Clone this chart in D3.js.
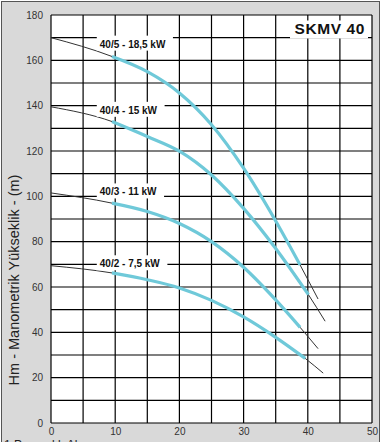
<!DOCTYPE html>
<html>
<head>
<meta charset="utf-8">
<script src="https://cdn.jsdelivr.net/npm/d3@7"></script>
<style>
body { margin: 0; background: #fff; }
text { font-family: Arial, "Liberation Sans", sans-serif; }
</style>
</head>
<body>
<svg id="chart" width="383" height="442"></svg>
<script>
let xTicks = [0, 10, 20, 30, 40, 50];
let yTicks = [0, 20, 40, 60, 80, 100, 120, 140, 160, 180];
let models = ['40/5 - 18,5 kW', '40/4 - 15 kW', '40/3 - 11 kW', '40/2 - 7,5 kW'];

// flow (x) and head (m)
let q405 = [0, 9.5, 15, 20, 25, 30, 35, 38.8, 41.6];
let h405 = [170, 161.7, 155, 145.6, 131.6, 112.4, 89.1, 69.7, 54.7];
let q404 = [0, 9.5, 15, 20, 25, 30, 35, 40.1, 42.7];
let h404 = [139.5, 133, 126.4, 119.9, 109.4, 94.7, 77, 56.6, 44.9];
let q403 = [0, 9.5, 15, 20, 25, 30, 35, 38.8, 41.6];
let h403 = [101.5, 97, 93.3, 88, 80, 68.7, 54.3, 42.2, 32.8];
let q402 = [0, 9.5, 15, 20, 25, 30, 35, 39.6, 42.4];
let h402 = [69.4, 66.2, 63.2, 59.6, 54.1, 46.8, 37.8, 28.5, 22];

// working range (blue part)
let opStart = [9.5, 9.5, 9.5, 9.5];
let opEnd = [38.8, 40.1, 38.8, 39.6];

let curves = [[q405, h405], [q404, h404], [q403, h403], [q402, h402]]
  .map(([q, h]) => q.map((v, i) => ({ q: v, h: h[i] })));

let svg = d3.select('#chart');

// grey panel
svg.append('rect').attr('x', 1.5).attr('y', 1.5).attr('width', 378).attr('height', 450)
  .attr('fill', '#d9d9d9').attr('stroke', '#555').attr('stroke-width', 1);

let x = d3.scaleLinear([0, 50], [51, 372]);
let y = d3.scaleLinear([0, 180], [423, 15]);

svg.append('rect').attr('x', x(0)).attr('y', y(180))
  .attr('width', x(50) - x(0)).attr('height', y(0) - y(180)).attr('fill', '#fff');

// grid
let grid = svg.append('g').attr('stroke', '#000').attr('stroke-width', 1.2);
grid.selectAll('.v').data(d3.range(0, 51, 5)).join('line')
  .attr('x1', d => x(d)).attr('x2', d => x(d)).attr('y1', y(0)).attr('y2', y(180));
grid.selectAll('.h').data(d3.range(0, 181, 10)).join('line')
  .attr('x1', x(0)).attr('x2', x(50)).attr('y1', d => y(d)).attr('y2', d => y(d));

// axes (labels only)
let xAxis = svg.append('g').attr('transform', `translate(0, ${y(0)})`)
  .call(d3.axisBottom(x).tickValues(xTicks).tickSize(0).tickPadding(5));
let yAxis = svg.append('g').attr('transform', `translate(${x(0) - 8}, 0)`)
  .call(d3.axisLeft(y).tickValues(yTicks).tickSize(0).tickPadding(0));
[xAxis, yAxis].forEach(a => {
  a.select('.domain').remove();
  a.selectAll('text').attr('font-size', 10).attr('fill', '#333')
    .attr('font-family', 'Arial, "Liberation Sans", sans-serif');
});

svg.append('text').attr('transform', 'translate(19, 280) rotate(-90)')
  .attr('text-anchor', 'middle').attr('font-size', 14.5).attr('fill', '#222')
  .text('Hm - Manometrik Yükseklik - (m)');

svg.append('text').attr('x', 4).attr('y', 449).attr('font-size', 12).attr('fill', '#222')
  .text('1 Pompalık Akış');

// curves
let line = d3.line().x(d => x(d.q)).y(d => y(d.h)).curve(d3.curveMonotoneX);

curves.forEach((pts, i) => {
  svg.append('path').attr('d', line(pts)).attr('fill', 'none')
    .attr('stroke', '#333').attr('stroke-width', 1);
  let op = pts.filter(d => d.q >= opStart[i] && d.q <= opEnd[i]);
  svg.append('path').attr('d', line(op)).attr('fill', 'none')
    .attr('stroke', '#6fc9d9').attr('stroke-width', 3.2).attr('stroke-linecap', 'butt');
});

// model labels
let labelQ = 7.6;
let labelH = [165.6, 136.4, 100.4, 68.7];
models.forEach((m, i) => {
  let g = svg.append('g');
  let t = g.append('text').attr('x', x(labelQ)).attr('y', y(labelH[i]))
    .attr('font-size', 10).attr('font-weight', 'bold').attr('fill', '#111').text(m);
  let b = t.node().getBBox();
  g.insert('rect', 'text').attr('x', b.x - 3).attr('y', y(labelH[i]) - 12)
    .attr('width', b.width + 10).attr('height', 15).attr('fill', '#fff');
});

// title
let tg = svg.append('g');
tg.append('rect').attr('x', 290).attr('y', 20.5).attr('width', 78).attr('height', 18).attr('fill', '#fff');
tg.append('text').attr('x', 365).attr('y', 33.5).attr('text-anchor', 'end')
  .attr('font-size', 15.5).attr('font-weight', 'bold').attr('letter-spacing', 0.6)
  .attr('fill', '#111').text('SKMV 40');
</script>
</body>
</html>
